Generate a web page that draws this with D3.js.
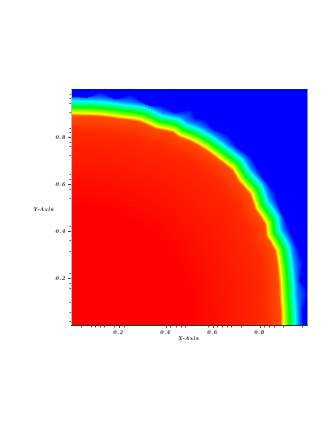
<!DOCTYPE html>
<html><head><meta charset="utf-8">
<style>
html,body{margin:0;padding:0;background:#fff;width:332px;height:430px;overflow:hidden}
#wrap{position:relative;width:332px;height:430px}
canvas,svg{position:absolute;left:0;top:0}
text{font-family:"DejaVu Serif";font-style:italic;font-weight:bold;font-size:5px;fill:#444;letter-spacing:.6px}
</style>
<script src="https://cdn.jsdelivr.net/npm/d3@7"></script>
</head><body><div id="wrap"></div>
<script>
const majorX=[0.2,0.4,0.6,0.8];
const majorY=[0.2,0.4,0.6,0.8];
const minorX=[0.04,0.084,0.102,0.12,0.14,0.18,0.222,0.42,0.443,0.464,0.485,0.58,0.6,0.62,0.64,0.66,0.68,0.72,0.82,0.84,0.86,0.9,0.98];
const minorY=[0.017,0.057,0.097,0.156,0.177,0.22,0.316,0.362,0.42,0.539,0.577,0.62,0.641,0.723,0.762,0.78,0.823,0.84,0.906,0.943,0.965,0.983];
const angleYellow=[0.5,7.6,14,20,24.5,27.5,32.2,36.2,40.6,44,48.3,52.5,56.6,60.2,62.4,66.6,71.5,76.8,86.8,90];
const radiusYellow=[.902,.904,.917,.932,.922,.939,.934,.952,.948,.960,.952,.949,.943,.932,.936,.919,.923,.911,.902,.902];
const angleOuter=[0,4,7.5,11,15,20,25,29,33,38,42.7,47,51,54,57,59,61,64,67.7,71,75.6,79,82.9,86,90];
const radiusOuter=[.987,.987,1.013,.991,1.021,1.013,1.013,1.013,1.034,1.026,1.047,1.034,1.047,1.03,1.043,1.026,1.051,1.004,1.009,.987,1.013,.979,1,.97,.97];
const levelStops=[1,.96,.925,.75,.5,.25,.125,0];
const bandOffsets=[-.08,-.012,0,.025,.051,.066];
const interiorRadius=.5;
const colorDomain=[0,.25,.5,.75,1];
const colorRange=["#0000ff","#00ffff","#00ff00","#ffff00","#ff0000"];
const xLabel="X-Axis", yLabel="Y-Axis";

const plotLeft=71.5,plotRight=306.5,plotTop=90,plotBottom=325;
const x=d3.scaleLinear().domain([0,1]).range([plotLeft,plotRight]);
const y=d3.scaleLinear().domain([0,1]).range([plotBottom,plotTop]);
const color=d3.scaleLinear().domain(colorDomain).range(colorRange).clamp(true);
const yellowAt=d3.scaleLinear().domain(angleYellow).range(radiusYellow);
const outerAt=d3.scaleLinear().domain(angleOuter).range(radiusOuter);

function level(r,a){
  const r0=yellowAt(a), out=outerAt(a);
  const rs=[interiorRadius,...bandOffsets.map(o=>r0+o),out];
  for(let i=1;i<rs.length;i++) if(rs[i]<=rs[i-1]) rs[i]=rs[i-1]+1e-4;
  return d3.scaleLinear().domain(rs).range(levelStops).clamp(true)(r);
}

const wrap=d3.select("#wrap");
const cv=wrap.append("canvas").attr("width",332).attr("height",430).node();
const ctx=cv.getContext("2d");
const X0=72,X1=307,Y0=89,Y1=325;
const img=ctx.createImageData(X1-X0,Y1-Y0);
for(let j=Y0;j<Y1;j++)for(let i=X0;i<X1;i++){
  const dx=x.invert(i+.5),dy=y.invert(j+.5);
  const r=Math.hypot(dx,dy),a=Math.atan2(dy,dx)*180/Math.PI;
  const c=d3.rgb(color(level(r,a)));
  const k=4*((j-Y0)*(X1-X0)+i-X0);
  img.data[k]=c.r;img.data[k+1]=c.g;img.data[k+2]=c.b;img.data[k+3]=255;
}
ctx.putImageData(img,X0,Y0);

const svg=wrap.append("svg").attr("width",332).attr("height",430);
svg.append("line").attr("x1",71.5).attr("x2",71.5).attr("y1",89).attr("y2",325).attr("stroke","#bbb");
svg.append("line").attr("x1",307.5).attr("x2",307.5).attr("y1",89).attr("y2",325).attr("stroke","#7f7fff");
svg.append("line").attr("x1",71).attr("x2",308).attr("y1",325.5).attr("y2",325.5).attr("stroke","#333");
const g=svg.append("g");
g.selectAll(".mx").data(minorX).join("line").attr("class","mx").attr("x1",d=>Math.round(x(d))+.5).attr("x2",d=>Math.round(x(d))+.5).attr("y1",326).attr("y2",327.5).attr("stroke","#555");
g.selectAll(".Mx").data(majorX).join("line").attr("class","Mx").attr("x1",d=>Math.round(x(d))+.5).attr("x2",d=>Math.round(x(d))+.5).attr("y1",326).attr("y2",328).attr("stroke","#444");
g.selectAll(".my").data(minorY).join("line").attr("class","my").attr("y1",d=>Math.round(y(d))+.5).attr("y2",d=>Math.round(y(d))+.5).attr("x1",69.5).attr("x2",71).attr("stroke","#555");
g.selectAll(".My").data(majorY).join("line").attr("class","My").attr("y1",d=>Math.round(y(d))+.5).attr("y2",d=>Math.round(y(d))+.5).attr("x1",68).attr("x2",71).attr("stroke","#444");
g.selectAll(".tx").data(majorX).join("text").attr("class","tx").attr("x",d=>x(d)).attr("y",334).attr("text-anchor","middle").text(d=>d.toFixed(1));
g.selectAll(".ty").data(majorY).join("text").attr("class","ty").attr("x",66).attr("y",d=>y(d)+2).attr("text-anchor","end").text(d=>d.toFixed(1));
svg.append("text").attr("x",189).attr("y",340).attr("text-anchor","middle").text(xLabel);
svg.append("text").attr("x",44).attr("y",211).attr("text-anchor","middle").text(yLabel);
</script></body></html>
